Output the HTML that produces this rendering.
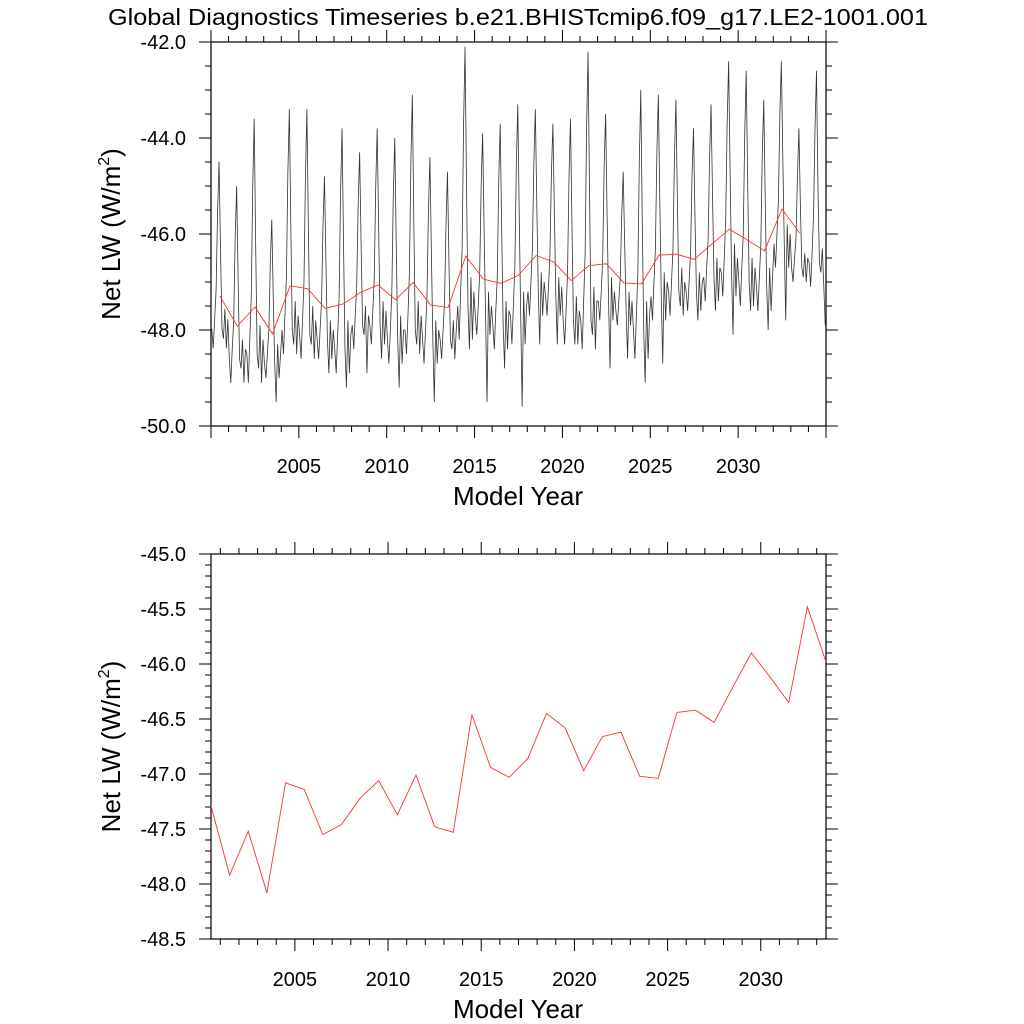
<!DOCTYPE html>
<html><head><meta charset="utf-8"><style>
html,body{margin:0;padding:0;background:#fff;}
svg{display:block;font-family:"Liberation Sans",Arial,sans-serif;}
</style></head><body>
<svg id="chart" width="1024" height="1024" viewBox="0 0 1024 1024" xmlns="http://www.w3.org/2000/svg">
<text x="108" y="25" font-size="23" textLength="820" lengthAdjust="spacingAndGlyphs">Global Diagnostics Timeseries b.e21.BHISTcmip6.f09_g17.LE2-1001.001</text>
<g id="topPanel"></g>
<g id="botPanel"></g>
</svg>
<script>
const years = [2000,2001,2002,2003,2004,2005,2006,2007,2008,2009,2010,2011,2012,2013,2014,2015,2016,2017,2018,2019,2020,2021,2022,2023,2024,2025,2026,2027,2028,2029,2030,2031,2032,2033];
const annualMeans = [-47.29,-47.92,-47.52,-48.08,-47.08,-47.14,-47.55,-47.46,-47.22,-47.06,-47.37,-47.01,-47.48,-47.53,-46.46,-46.94,-47.03,-46.86,-46.45,-46.58,-46.97,-46.66,-46.62,-47.02,-47.04,-46.44,-46.42,-46.53,-46.21,-45.90,-46.12,-46.35,-45.48,-45.98];
const monthlyValues = [
-47.97,-48.38,-47.77,-47.15,-45.51,-44.49,-46.33,-47.97,-48.18,-47.56,-48.38,-47.77,
-48.6,-49.1,-48.4,-47.8,-46.1,-45.0,-46.9,-48.6,-48.8,-48.2,-49.1,-48.4,
-48.5,-49.1,-48.2,-47.3,-45.0,-43.6,-46.2,-48.5,-48.8,-47.9,-49.1,-48.2,
-48.7,-49.0,-48.5,-48.0,-46.6,-45.7,-47.3,-48.7,-49.5,-48.3,-49.0,-48.5,
-48.0,-48.5,-47.7,-46.9,-44.7,-43.4,-45.8,-48.0,-48.3,-47.4,-48.5,-47.7,
-48.1,-48.6,-47.8,-47.0,-44.8,-43.4,-45.9,-48.1,-48.3,-47.5,-48.6,-47.8,
-48.2,-48.6,-48.0,-47.4,-45.8,-44.8,-46.6,-48.2,-48.9,-47.8,-48.6,-48.0,
-48.4,-48.9,-48.1,-47.3,-45.1,-43.8,-46.2,-48.4,-49.2,-47.8,-48.9,-48.1,
-47.9,-48.4,-47.7,-47.1,-45.4,-44.3,-46.2,-47.9,-48.1,-47.5,-48.9,-47.7,
-47.9,-48.3,-47.6,-46.9,-45.0,-43.8,-45.9,-47.9,-48.6,-47.4,-48.3,-47.6,
-48.2,-48.7,-48.0,-47.2,-45.2,-44.0,-46.2,-48.2,-49.2,-47.7,-48.7,-48.0,
-48.0,-48.5,-47.7,-46.8,-44.5,-43.1,-45.7,-48.0,-48.3,-47.4,-48.5,-47.7,
-48.2,-48.7,-48.0,-47.3,-45.5,-44.4,-46.4,-48.2,-49.5,-47.8,-48.7,-48.0,
-48.2,-48.6,-48.0,-47.4,-45.8,-44.7,-46.6,-48.2,-48.4,-47.8,-48.6,-48.0,
-47.5,-48.2,-47.2,-46.3,-43.7,-42.1,-45.0,-47.5,-48.4,-46.9,-48.2,-47.2,
-47.7,-48.1,-47.5,-46.8,-45.0,-43.9,-45.9,-47.7,-49.5,-47.2,-48.1,-47.5,
-47.9,-48.4,-47.6,-46.9,-44.9,-43.7,-45.9,-47.9,-48.8,-47.4,-48.4,-47.6,
-47.7,-48.3,-47.5,-46.7,-44.6,-43.3,-45.6,-47.7,-49.6,-47.2,-48.3,-47.5,
-47.2,-47.7,-47.0,-46.3,-44.5,-43.4,-45.4,-47.2,-48.3,-46.8,-47.7,-47.0,
-47.3,-47.7,-47.1,-46.4,-44.7,-43.7,-45.6,-47.3,-48.3,-46.9,-47.7,-47.1,
-47.8,-48.3,-47.6,-46.8,-44.8,-43.6,-45.8,-47.8,-48.3,-47.3,-48.3,-47.6,
-47.8,-48.4,-47.4,-46.4,-43.8,-42.2,-45.1,-47.8,-48.1,-47.1,-48.4,-47.4,
-47.4,-47.8,-47.2,-46.5,-44.6,-43.5,-45.6,-47.4,-48.8,-46.9,-47.8,-47.2,
-47.6,-47.9,-47.4,-46.9,-45.6,-44.7,-46.2,-47.6,-48.6,-47.2,-47.9,-47.4,
-48.0,-48.6,-47.7,-46.8,-44.5,-43.0,-45.7,-48.0,-49.1,-47.4,-48.6,-47.7,
-47.3,-47.8,-47.0,-46.3,-44.3,-43.1,-45.3,-47.3,-48.7,-46.8,-47.8,-47.0,
-47.2,-47.7,-47.0,-46.3,-44.4,-43.2,-45.3,-47.2,-47.5,-46.7,-47.7,-47.0,
-47.2,-47.6,-47.0,-46.4,-44.8,-43.8,-45.6,-47.2,-47.8,-46.8,-47.6,-47.0,
-46.9,-47.4,-46.7,-46.1,-44.4,-43.3,-45.2,-46.9,-47.6,-46.5,-47.4,-46.7,
-46.8,-47.3,-46.5,-45.7,-43.7,-42.4,-44.7,-46.8,-48.1,-46.2,-47.3,-46.5,
-47.0,-47.5,-46.7,-46.0,-43.9,-42.6,-44.9,-47.0,-47.6,-46.5,-47.5,-46.7,
-47.1,-47.6,-46.9,-46.2,-44.3,-43.2,-45.3,-47.1,-48.0,-46.7,-47.6,-46.9,
-46.2,-46.7,-46.0,-45.3,-43.5,-42.4,-44.4,-46.2,-47.8,-45.8,-46.7,-46.0,
-46.7,-47.0,-46.5,-46.1,-44.8,-43.8,-45.4,-46.7,-46.9,-46.4,-47.0,-46.5,
-46.6,-47.1,-46.4,-45.6,-43.8,-42.6,-45.0,-46.6,-46.8,-46.3,-47.1,-47.9
];
const topYTicks = [-42,-44,-46,-48,-50];
const topYLabels = ["-42.0","-44.0","-46.0","-48.0","-50.0"];
const botYTicks = [-45,-45.5,-46,-46.5,-47,-47.5,-48,-48.5];
const botYLabels = ["-45.0","-45.5","-46.0","-46.5","-47.0","-47.5","-48.0","-48.5"];
const xTickYears = [2005,2010,2015,2020,2025,2030];
const xTickLabels = ["2005","2010","2015","2020","2025","2030"];

const NS="http://www.w3.org/2000/svg";
function mk(parent,tag,attrs){const e=document.createElementNS(NS,tag);for(const k in attrs)e.setAttribute(k,attrs[k]);parent.appendChild(e);return e;}

function panel(g,o){
  const L=211,R=826,T=o.top,B=o.bottom;
  const xs=v=>L+(v-o.x0)/(o.x1-o.x0)*(R-L);
  const ys=v=>T+(o.y0-v)/(o.y0-o.y1)*(B-T);
  let d="";
  for(let yr=Math.ceil(o.x0);yr<=o.x1;yr++){const x=xs(yr);const len=(yr%5===0)?12:6;d+=`M${x},${B}v${len}M${x},${T}v${-len}`;}
  const nMinor=Math.round((o.y0-o.y1)/o.minorY);
  for(let k=0;k<=nMinor;k++){const v=o.y1+k*o.minorY;const y=ys(v);const r=v/o.majorY;const maj=Math.abs(r-Math.round(r))<1e-6;const len=maj?12:6;d+=`M${L},${y}h${-len}M${R},${y}h${len}`;}
  const tk=mk(g,"path",{d:d,stroke:"#000","stroke-width":"1",fill:"none"});
  
  
  const fr=mk(g,"rect",{x:L,y:T,width:R-L,height:B-T,fill:"none",stroke:"#000","stroke-width":"1.2"});
  
  
  o.yT.forEach((v,i)=>{const t=mk(g,"text",{x:186,y:ys(v)+7,"font-size":"20","text-anchor":"end"});t.textContent=o.yL[i];
    
    });
  xTickYears.forEach((v,i)=>{const t=mk(g,"text",{x:xs(v),y:B+47,"font-size":"20","text-anchor":"middle"});t.textContent=xTickLabels[i];
    
    });
  const xt=mk(g,"text",{x:518,y:B+79,"font-size":"26","text-anchor":"middle"});xt.textContent="Model Year";
  
  
  const cy=(T+B)/2;
  const yt=mk(g,"text",{x:0,y:0,"font-size":"26","text-anchor":"middle",transform:`translate(120,${cy}) rotate(-90)`});
  yt.innerHTML='Net LW (W/m<tspan font-size="16" dy="-11">2</tspan><tspan dy="11">)</tspan>';
  
  
  return {xs,ys};
}

const topG=document.getElementById("topPanel");
const sa=panel(topG,{top:42,bottom:426,x0:2000,x1:2035,y0:-42,y1:-50,majorY:2,minorY:0.5,yT:topYTicks,yL:topYLabels});
const pm=monthlyValues.map((v,i)=>`${sa.xs(2000+i/12+1/24).toFixed(2)},${sa.ys(v).toFixed(2)}`).join(" ");
const ml=mk(topG,"polyline",{points:pm,fill:"none",stroke:"#333","stroke-width":"0.8"});


const pa=annualMeans.map((v,i)=>`${sa.xs(years[i]+0.5).toFixed(2)},${sa.ys(v).toFixed(2)}`).join(" ");
const al=mk(topG,"polyline",{points:pa,fill:"none",stroke:"#ff3030","stroke-width":"0.9"});



const botG=document.getElementById("botPanel");
const sb=panel(botG,{top:554,bottom:939,x0:2000.5,x1:2033.5,y0:-45,y1:-48.5,majorY:0.5,minorY:0.1,yT:botYTicks,yL:botYLabels});
const pb=annualMeans.map((v,i)=>`${sb.xs(years[i]+0.5).toFixed(2)},${sb.ys(v).toFixed(2)}`).join(" ");
const bl=mk(botG,"polyline",{points:pb,fill:"none",stroke:"#ff3030","stroke-width":"0.9"});


</script>
</body></html>
